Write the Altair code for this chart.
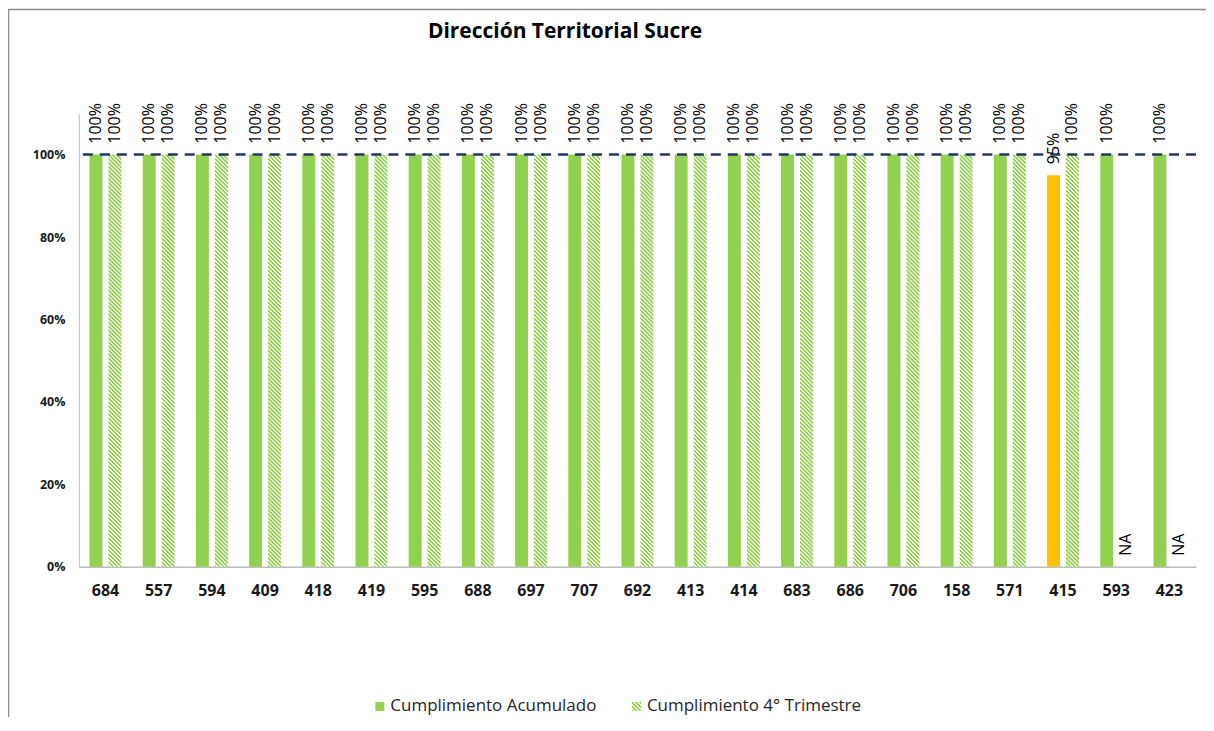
import math
import altair as alt
import pandas as pd

# ---------------- data ----------------
titulo = "Dirección Territorial Sucre"
categorias = ["684", "557", "594", "409", "418", "419", "595", "688", "697", "707",
              "692", "413", "414", "683", "686", "706", "158", "571", "415", "593", "423"]
acumulado = [1.00, 1.00, 1.00, 1.00, 1.00, 1.00, 1.00, 1.00, 1.00, 1.00,
             1.00, 1.00, 1.00, 1.00, 1.00, 1.00, 1.00, 1.00, 0.95, 1.00, 1.00]
trimestre = [1.00, 1.00, 1.00, 1.00, 1.00, 1.00, 1.00, 1.00, 1.00, 1.00,
             1.00, 1.00, 1.00, 1.00, 1.00, 1.00, 1.00, 1.00, 1.00, None, None]
series = ["Cumplimiento Acumulado", "Cumplimiento 4° Trimestre"]
meta = [1.0]
y_ticks = [0, 0.2, 0.4, 0.6, 0.8, 1.0]

rows = []
for c, a, t in zip(categorias, acumulado, trimestre):
    rows.append({"cat": c, "serie": series[0], "valor": a, "ypos": a,
                 "etiqueta": f"{round(a * 100)}%"})
    rows.append({"cat": c, "serie": series[1], "valor": t, "ypos": t if t is not None else 0,
                 "etiqueta": f"{round(t * 100)}%" if t is not None else "NA"})
df = pd.DataFrame(rows)

# ---------------- styles ----------------
GREEN = "#92D050"
ORANGE = "#FFC000"
PW, PH = 1119, 454
YMAX = 1.1
FONT = "Open Sans"
PAD_X_IN, PAD_X_OUT = 0.4, 0.2
PAD_OFF = 0.316
PERIOD = 4.0          # hatch period in pixels
SEG_PX = 20.0         # hatched bars are drawn in stacked pieces (multiple of PERIOD)
OV_PX = 0.6           # small overlap between pieces to hide seams

px_per_unit = PH / YMAX
SEG = SEG_PX / px_per_unit
OV = OV_PX / px_per_unit

step_px = PW / (len(categorias) - PAD_X_IN + 2 * PAD_X_OUT)
band_px = step_px * (1 - PAD_X_IN)
bar_w = band_px / (2 - PAD_OFF) * (1 - PAD_OFF)


def stripes(w, h, period, c1, c2="#FFFFFF"):
    # soft-edged diagonal stripes (\\\) in the mark's bounding box
    k = (w + h) / (w * w + h * h)
    n = (w + h) / period
    profile = [(0.0, c1), (0.38, c1), (0.58, c2), (0.80, c2), (1.0, c1)]
    stops = []
    for i in range(int(math.ceil(n))):
        for f, col in profile:
            stops.append({"offset": min((i + f) / n, 1), "color": col})
    return {"gradient": "linear", "x1": 0, "y1": 1, "x2": k * w, "y2": 1 - k * h, "stops": stops}


full_rows, rest_rows = [], []
for c, t in zip(categorias, trimestre):
    if t is None:
        continue
    tot_px = t * px_per_unit
    nfull = int(math.floor(tot_px / SEG_PX + 1e-9))
    for i in range(nfull):
        full_rows.append({"cat": c, "serie": series[1], "y0": i * SEG,
                          "y1": min((i + 1) * SEG + OV, t)})
    rest_px = tot_px - nfull * SEG_PX
    if rest_px > 0.3:
        rest_rows.append({"cat": c, "serie": series[1], "y0": nfull * SEG, "y1": t,
                          "h": round(rest_px, 2)})
df_full = pd.DataFrame(full_rows)
df_rest = pd.DataFrame(rest_rows)

hatch_full = stripes(bar_w, SEG_PX + OV_PX, PERIOD, GREEN)
hatch_leg = stripes(9, 9, PERIOD, GREEN)

x_enc = alt.X("cat:N", sort=categorias,
              scale=alt.Scale(paddingInner=PAD_X_IN, paddingOuter=PAD_X_OUT),
              axis=alt.Axis(title=None, labelAngle=0, ticks=False, labelFont=FONT,
                            labelFontWeight="bold", labelFontSize=16, labelColor="#1a1a1a",
                            labelPadding=16, domainColor="#9a9a9a", domainWidth=1))
xo_enc = alt.XOffset("serie:N", scale=alt.Scale(domain=series, paddingInner=PAD_OFF, paddingOuter=0))
y_scale = alt.Scale(domain=[0, YMAX], nice=False)

base = alt.Chart(df)

bars_acc = base.transform_filter(alt.datum.serie == series[0]).mark_bar().encode(
    x=x_enc,
    xOffset=xo_enc,
    y=alt.Y("valor:Q", scale=y_scale,
            axis=alt.Axis(title=None, values=y_ticks, format=".0%", ticks=False, grid=False,
                          labelFont=FONT, labelFontWeight="bold", labelFontSize=12.5,
                          labelColor="#1a1a1a", labelPadding=14, domainColor="#bfbfbf")),
    color=alt.condition(alt.datum.valor < 1, alt.value(ORANGE), alt.value(GREEN)),
)

hatched_layers = [alt.Chart(df_full).mark_bar(fill=hatch_full).encode(
    x=x_enc, xOffset=xo_enc, y=alt.Y("y0:Q", scale=y_scale), y2="y1:Q")]
if len(df_rest):
    for h in sorted(df_rest["h"].unique()):
        sub = df_rest[df_rest["h"] == h]
        hatched_layers.append(alt.Chart(sub).mark_bar(
            fill=stripes(bar_w, float(h), PERIOD, GREEN)).encode(
            x=x_enc, xOffset=xo_enc, y=alt.Y("y0:Q", scale=y_scale), y2="y1:Q"))

labels = base.mark_text(angle=270, align="left", baseline="middle", dx=11,
                        font=FONT, fontSize=16, color="#000000").encode(
    x=x_enc,
    xOffset=xo_enc,
    y=alt.Y("ypos:Q", scale=y_scale),
    text="etiqueta:N",
)

rule = alt.Chart(pd.DataFrame({"meta": meta})).mark_rule(
    color="#1F3864", strokeWidth=2.5, strokeDash=[10, 7]).encode(
    y=alt.Y("meta:Q", scale=y_scale))

title = alt.Chart(pd.DataFrame({"t": [titulo]})).mark_text(
    font=FONT, fontSize=21, fontWeight="bold", color="#000000", align="center",
    baseline="middle").encode(text="t:N", x=alt.value(487), y=alt.value(-82))

border = alt.Chart(pd.DataFrame({"t": [titulo]})).mark_rect(
    filled=False, stroke="#8c8c8c", strokeWidth=1.5).encode(
    x=alt.value(-70.5), x2=alt.value(1250), y=alt.value(-104), y2=alt.value(760))

# ---- legend (built from marks so the hatch pattern can be shown) ----
leg_df = pd.DataFrame({"serie": series})
LEG_Y = 594
leg_sym1 = alt.Chart(leg_df).transform_filter(alt.datum.serie == series[0]).mark_rect(
    fill=GREEN).encode(x=alt.value(297), x2=alt.value(306),
                       y=alt.value(LEG_Y - 4.5), y2=alt.value(LEG_Y + 4.5))
leg_txt1 = alt.Chart(leg_df).transform_filter(alt.datum.serie == series[0]).mark_text(
    font=FONT, fontSize=17, color="#262626", align="left", baseline="middle").encode(
    text="serie:N", x=alt.value(312), y=alt.value(LEG_Y))
leg_sym2 = alt.Chart(leg_df).transform_filter(alt.datum.serie == series[1]).mark_rect(
    fill=hatch_leg).encode(x=alt.value(554), x2=alt.value(563),
                           y=alt.value(LEG_Y - 4.5), y2=alt.value(LEG_Y + 4.5))
leg_txt2 = alt.Chart(leg_df).transform_filter(alt.datum.serie == series[1]).mark_text(
    font=FONT, fontSize=17, color="#262626", align="left", baseline="middle").encode(
    text="serie:N", x=alt.value(569), y=alt.value(LEG_Y))

chart = alt.layer(border, bars_acc, *hatched_layers, rule, labels, title,
                  leg_sym1, leg_txt1, leg_sym2, leg_txt2).properties(
    width=PW, height=PH,
    autosize=alt.AutoSizeParams(type="none"),
    padding={"left": 71, "top": 105, "right": 10, "bottom": 150},
    background="white",
).configure_view(stroke=None)

chart.save("out.html", embed_options={"renderer": "svg", "actions": False})
